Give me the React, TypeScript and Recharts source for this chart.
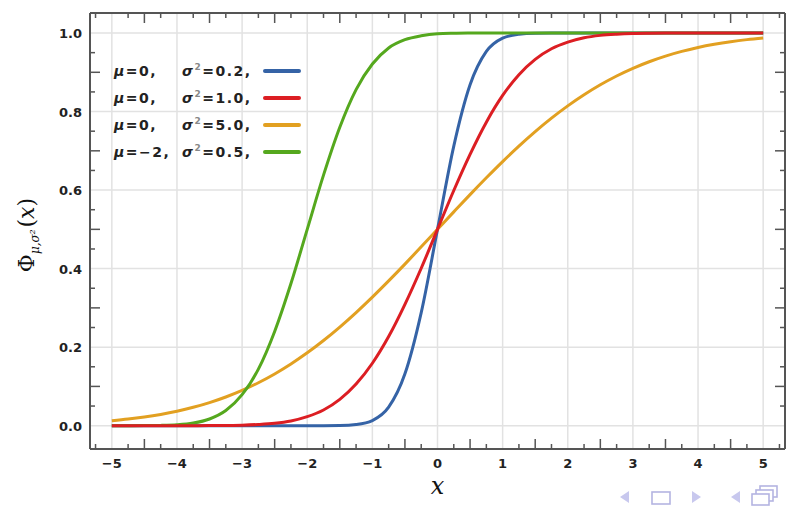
import React from "react";
import { LineChart, Line, XAxis, YAxis, CartesianGrid, Legend } from "recharts";

// x positions the curves were read at
const xs = [
  -5, -4.75, -4.5, -4.25, -4, -3.75, -3.5, -3.25, -3, -2.75, -2.5, -2.25, -2,
  -1.75, -1.5, -1.25, -1, -0.75, -0.5, -0.25, 0, 0.25, 0.5, 0.75, 1, 1.25, 1.5,
  1.75, 2, 2.25, 2.5, 2.75, 3, 3.25, 3.5, 3.75, 4, 4.25, 4.5, 4.75, 5,
];

// mu=0, sigma^2=0.2
const blue = [
  0, 0, 0, 0, 0, 0, 0, 0, 0, 0, 0, 0, 0, 0, 0.0004, 0.003, 0.013, 0.047, 0.132,
  0.288, 0.5, 0.712, 0.868, 0.953, 0.987, 0.997, 0.9996, 1, 1, 1, 1, 1, 1, 1, 1,
  1, 1, 1, 1, 1, 1,
];
// mu=0, sigma^2=1.0
const red = [
  0, 0, 0, 0, 0, 0.0001, 0.0002, 0.0006, 0.0013, 0.003, 0.006, 0.012, 0.023,
  0.04, 0.067, 0.106, 0.159, 0.227, 0.309, 0.401, 0.5, 0.599, 0.691, 0.773,
  0.841, 0.894, 0.933, 0.96, 0.977, 0.988, 0.994, 0.997, 0.9987, 0.9994, 0.9998,
  0.9999, 1, 1, 1, 1, 1,
];
// mu=0, sigma^2=5.0
const orange = [
  0.0127, 0.0168, 0.0221, 0.0287, 0.0368, 0.0468, 0.0588, 0.0731, 0.0899,
  0.1094, 0.1318, 0.1572, 0.1855, 0.2169, 0.2512, 0.2881, 0.3274, 0.3687,
  0.4115, 0.4555, 0.5, 0.5445, 0.5885, 0.6313, 0.6726, 0.7119, 0.7488, 0.7831,
  0.8145, 0.8428, 0.8682, 0.8906, 0.9101, 0.9269, 0.9412, 0.9532, 0.9632,
  0.9713, 0.9779, 0.9832, 0.9873,
];
// mu=-2, sigma^2=0.5
const green = [
  0, 0.0001, 0.0002, 0.0007, 0.0023, 0.0067, 0.017, 0.0385, 0.079, 0.144, 0.24,
  0.362, 0.5, 0.638, 0.76, 0.856, 0.921, 0.962, 0.983, 0.993, 0.998, 0.9993,
  0.9998, 1, 1, 1, 1, 1, 1, 1, 1, 1, 1, 1, 1, 1, 1, 1, 1, 1, 1,
];

const xLabels = [-5, -4, -3, -2, -1, 0, 1, 2, 3, 4, 5];
const yLabels = [0, 0.2, 0.4, 0.6, 0.8, 1.0];

const legendMu = ["0", "0", "0", "\u22122"];
const legendSigma2 = ["0.2", "1.0", "5.0", "0.5"];
const seriesKeys = ["blue", "red", "orange", "green"];
const seriesColors = ["#3563a6", "#dc1e23", "#e2a021", "#55a81e"];
// drawing order, red ends up on top
const drawOrder = [0, 2, 3, 1];

const data = xs.map((x, i) => ({
  x,
  blue: blue[i],
  red: red[i],
  orange: orange[i],
  green: green[i],
}));

const xMarks = Array.from({ length: 43 }, (_, i) => -5.25 + i * 0.25);
const yMarks = Array.from({ length: 21 }, (_, i) => i * 0.05);

const isMult = (v: number, s: number) =>
  Math.abs(v / s - Math.round(v / s)) < 1e-6;

const xLen = (v: number) => (isMult(v, 1) ? 0 : isMult(v, 0.5) ? 10 : 5);
const yLen = (v: number) => (isMult(v, 0.2) ? 0 : isMult(v, 0.1) ? 10 : 5);

const frame = "#555";
const tickFont = {
  fontFamily: "DejaVu Sans",
  fontWeight: 700,
  fontSize: 13,
  fill: "#222",
};

const BottomTick = (props: any) => {
  const { x, y, payload } = props;
  const v = payload.value;
  const len = xLen(v);
  const label = isMult(v, 1)
    ? v < 0
      ? "\u2212" + Math.abs(Math.round(v))
      : String(Math.round(v))
    : null;
  return (
    <g>
      {len > 0 && (
        <line x1={x} x2={x} y1={y} y2={y - len} stroke={frame} strokeWidth={1.5} />
      )}
      {label && (
        <text x={x} y={y + 19} textAnchor="middle" {...tickFont}>
          {label}
        </text>
      )}
    </g>
  );
};

const TopTick = (props: any) => {
  const { x, y, payload } = props;
  const len = xLen(payload.value);
  if (!len) return <g />;
  return <line x1={x} x2={x} y1={y} y2={y + len} stroke={frame} strokeWidth={1.5} />;
};

const LeftTick = (props: any) => {
  const { x, y, payload } = props;
  const v = payload.value;
  const len = yLen(v);
  return (
    <g>
      {len > 0 && (
        <line x1={x} x2={x + len} y1={y} y2={y} stroke={frame} strokeWidth={1.5} />
      )}
      {isMult(v, 0.2) && (
        <text x={x - 8} y={y + 5} textAnchor="end" {...tickFont}>
          {v.toFixed(1)}
        </text>
      )}
    </g>
  );
};

const RightTick = (props: any) => {
  const { x, y, payload } = props;
  const len = yLen(payload.value);
  if (!len) return <g />;
  return <line x1={x} x2={x - len} y1={y} y2={y} stroke={frame} strokeWidth={1.5} />;
};

const YLabel = (props: any) => {
  const { viewBox } = props;
  const cx = viewBox.x + 24;
  const cy = viewBox.y + viewBox.height / 2 + 4;
  return (
    <text
      x={cx}
      y={cy}
      textAnchor="middle"
      transform={`rotate(-90, ${cx}, ${cy})`}
      fontFamily="DejaVu Serif"
      fontSize={22}
      fill="#111"
    >
      <tspan>Φ</tspan>
      <tspan fontSize={12} dy={5} fontStyle="italic">
        μ,σ²
      </tspan>
      <tspan dy={-5} dx={2}>(</tspan>
      <tspan fontStyle="italic">x</tspan>
      <tspan>)</tspan>
    </text>
  );
};

const LegendBox = () => (
  <div
    style={{
      fontFamily: "DejaVu Sans",
      fontWeight: 700,
      fontSize: 14,
      color: "#222",
      letterSpacing: 1.5,
    }}
  >
    {seriesKeys.map((k, i) => (
      <div key={k} style={{ display: "flex", alignItems: "center", height: 27 }}>
        <span style={{ width: 68, fontStyle: "normal" }}>
          <i>μ</i>={legendMu[i]},
        </span>
        <span style={{ width: 81 }}>
          <i>σ</i>
          <sup style={{ fontSize: 9, color: "#888" }}>2</sup>={legendSigma2[i]},
        </span>
        <span
          style={{
            display: "inline-block",
            width: 38,
            height: 4,
            borderRadius: 2,
            background: seriesColors[i],
          }}
        />
      </div>
    ))}
  </div>
);

const NavIcons = () => (
  <svg
    width={200}
    height={30}
    style={{ position: "absolute", left: 600, top: 482 }}
  >
    <g fill="#c8c8ee" stroke="none">
      <polygon points="20,15 29,9 29,21" />
      <polygon points="92,9 101,15 92,21" />
      <polygon points="131,15 140,9 140,21" />
    </g>
    <g fill="none" stroke="#b4b4e2" strokeWidth={1.6}>
      <rect x={52} y={10} width={18} height={12} />
      <rect x={160} y={4} width={17} height={11} />
      <rect x={156} y={8} width={17} height={11} fill="#fff" />
      <rect x={152} y={12} width={17} height={11} fill="#fff" />
    </g>
  </svg>
);

export default function App() {
  return (
    <div
      style={{
        position: "absolute",
        left: 0,
        top: 0,
        width: 798,
        height: 514,
        background: "#fff",
      }}
    >
      <LineChart
        width={798}
        height={514}
        data={data}
        margin={{ top: 12, right: 12, bottom: 20, left: 10 }}
      >
        <CartesianGrid
          verticalValues={xLabels}
          horizontalValues={yLabels}
          stroke="#e2e2e2"
          strokeWidth={1.5}
        />
        <XAxis
          dataKey="x"
          type="number"
          domain={[-5.335, 5.335]}
          allowDataOverflow
          ticks={xMarks}
          interval={0}
          tickSize={0}
          tickMargin={0}
          tickLine={false}
          axisLine={{ stroke: frame, strokeWidth: 2 }}
          tick={<BottomTick />}
          height={45}
          label={{
            value: "x",
            position: "insideBottom",
            offset: 0,
            style: {
              fontFamily: "DejaVu Serif",
              fontStyle: "italic",
              fontSize: 24,
              fill: "#111",
            },
          }}
        />
        <XAxis
          xAxisId="top"
          orientation="top"
          type="number"
          dataKey="x"
          domain={[-5.335, 5.335]}
          allowDataOverflow
          ticks={xMarks}
          interval={0}
          tickSize={0}
          tickMargin={0}
          tickLine={false}
          axisLine={{ stroke: frame, strokeWidth: 2 }}
          tick={<TopTick />}
          height={1}
        />
        <YAxis
          type="number"
          domain={[-0.0594, 1.051]}
          allowDataOverflow
          ticks={yMarks}
          interval={0}
          tickSize={0}
          tickMargin={0}
          tickLine={false}
          axisLine={{ stroke: frame, strokeWidth: 2 }}
          tick={<LeftTick />}
          width={80}
          label={{ content: <YLabel /> }}
        />
        <YAxis
          yAxisId="right"
          orientation="right"
          type="number"
          domain={[-0.0594, 1.051]}
          allowDataOverflow
          ticks={yMarks}
          interval={0}
          tickSize={0}
          tickMargin={0}
          tickLine={false}
          axisLine={{ stroke: frame, strokeWidth: 2 }}
          tick={<RightTick />}
          width={1}
        />
        <Legend
          layout="vertical"
          align="center"
          verticalAlign="middle"
          content={<LegendBox />}
          wrapperStyle={{ position: "absolute", left: 114, top: 57, width: "auto" }}
        />
        {drawOrder.map((i) => (
          <Line
            key={seriesKeys[i]}
            dataKey={seriesKeys[i]}
            type="monotone"
            stroke={seriesColors[i]}
            strokeWidth={3}
            dot={false}
            activeDot={false}
            isAnimationActive={false}
          />
        ))}
      </LineChart>
      <NavIcons />
    </div>
  );
}
